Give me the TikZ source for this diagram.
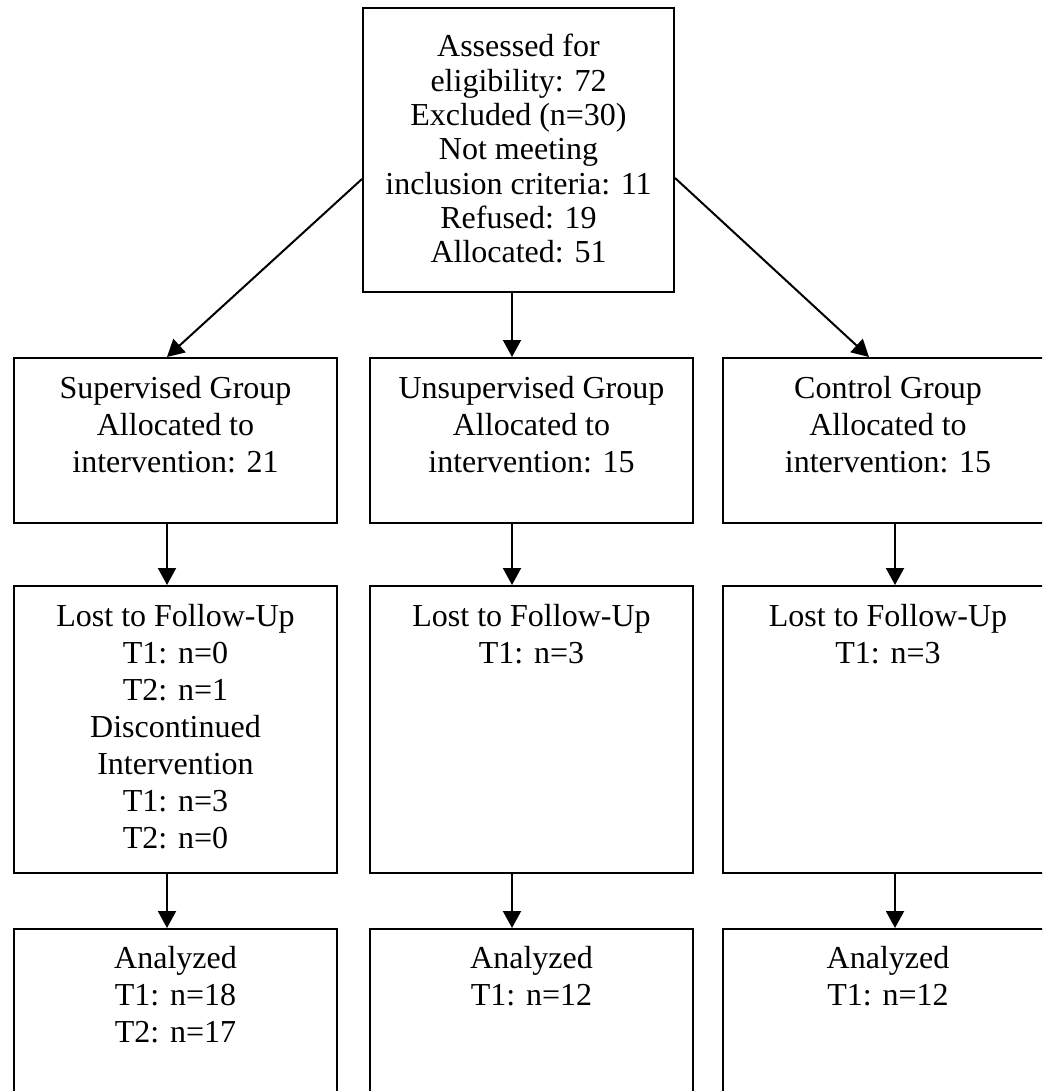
\documentclass[tikz,border=0pt]{standalone}
\usepackage{fontspec}
\setmainfont{Liberation Serif}
\usetikzlibrary{arrows.meta}
% width, height, gap to first baseline, lines
\newcommand{\boxlines}[4]{\parbox[c][#2pt][t]{#1pt}{\centering\rule{0pt}{#3pt}#4}}

\begin{document}
\begin{tikzpicture}[x=1pt,y=-1pt,
	box/.style={draw,line width=2pt,inner sep=0pt,anchor=north west,font={\fontsize{32}{37}\selectfont}},
	arr/.style={line width=2pt,-{Triangle[length=17pt,width=18pt]}}]
\useasboundingbox (0,0) rectangle (1042,1091);
\clip (0,0) rectangle (1042,1091);

\node[box,font={\fontsize{32}{34.3}\selectfont}] (assess) at (362,7) {\boxlines{311}{284}{49}{Assessed for\\eligibility: 72\\Excluded (n=30)\\Not meeting\\inclusion criteria: 11\\Refused: 19\\Allocated: 51}};
%allocation
\node[box] (supv) at (13,357) {\boxlines{323}{165}{40}{Supervised Group\\Allocated to\\intervention: 21}};
\node[box] (unsup) at (369,357) {\boxlines{323}{165}{40}{Unsupervised Group\\Allocated to\\intervention: 15}};
\node[box] (ctrl) at (722,357) {\boxlines{330}{165}{40}{Control Group\\Allocated to\\intervention: 15}};
%follow-up
\node[box] (lostsupv) at (13,585) {\boxlines{323}{287}{40}{Lost to Follow-Up\\T1: n=0\\T2: n=1\\Discontinued\\Intervention\\T1: n=3\\T2: n=0}};
\node[box] (lostunsup) at (369,585) {\boxlines{323}{287}{40}{Lost to Follow-Up\\T1: n=3}};
\node[box] (lostctrl) at (722,585) {\boxlines{330}{287}{40}{Lost to Follow-Up\\T1: n=3}};
%analysis
\node[box] (anasupv) at (13,928) {\boxlines{323}{220}{39}{Analyzed\\T1: n=18\\T2: n=17}};
\node[box] (anaunsup) at (369,928) {\boxlines{323}{220}{39}{Analyzed\\T1: n=12}};
\node[box] (anactrl) at (722,928) {\boxlines{330}{220}{39}{Analyzed\\T1: n=12}};

%arrows
\draw[arr] ([yshift=-29pt]assess.west) -- ([xshift=-8.5pt]supv.north);
\draw[arr] ([xshift=-6.5pt]assess.south) -- ([xshift=-19.5pt]unsup.north);
\draw[arr] ([yshift=-28pt]assess.east) -- ([xshift=-19pt]ctrl.north);
\draw[arr] ([xshift=-8.5pt]supv.south) -- ([xshift=-8.5pt]lostsupv.north);
\draw[arr] ([xshift=-19.5pt]unsup.south) -- ([xshift=-19.5pt]lostunsup.north);
\draw[arr] ([xshift=7pt]ctrl.south) -- ([xshift=7pt]lostctrl.north);
\draw[arr] ([xshift=-8.5pt]lostsupv.south) -- ([xshift=-8.5pt]anasupv.north);
\draw[arr] ([xshift=-19.5pt]lostunsup.south) -- ([xshift=-19.5pt]anaunsup.north);
\draw[arr] ([xshift=7pt]lostctrl.south) -- ([xshift=7pt]anactrl.north);
\end{tikzpicture}
\end{document}
